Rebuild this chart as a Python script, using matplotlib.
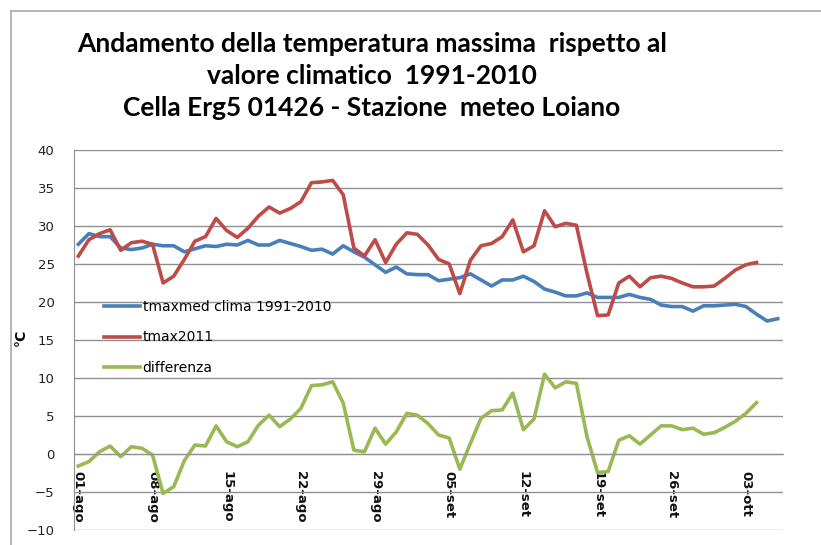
import matplotlib
matplotlib.use("Agg")
import matplotlib.pyplot as plt
import matplotlib.ticker as ticker
from matplotlib.lines import Line2D

# 数据：每天一个点，从 01-ago 开始
tmaxmed = [27.6, 29.0, 28.6, 28.6, 27.1, 26.9, 27.1, 27.6, 27.4, 27.4,
           26.6, 27.0, 27.4, 27.3, 27.6, 27.5, 28.1, 27.5, 27.5, 28.1,
           27.7, 27.3, 26.8, 26.95, 26.3, 27.4, 26.6, 25.9, 24.9, 23.9,
           24.6, 23.7, 23.6, 23.6, 22.8, 23.0, 23.2, 23.7, 22.9, 22.1,
           22.9, 22.9, 23.4, 22.7, 21.7, 21.3, 20.8, 20.8, 21.2, 20.6,
           20.6, 20.6, 21.0, 20.6, 20.35, 19.6, 19.4, 19.4, 18.8, 19.5,
           19.5, 19.6, 19.7, 19.4, 18.4, 17.5, 17.8]

tmax2011 = [26.05, 28.2, 29.0, 29.5, 26.8, 27.8, 28.0, 27.6, 22.5, 23.4,
            25.6, 28.0, 28.6, 31.0, 29.4, 28.5, 29.7, 31.3, 32.5, 31.7,
            32.3, 33.2, 35.7, 35.8, 36.0, 34.1, 27.1, 26.05, 28.2, 25.2,
            27.6, 29.1, 28.9, 27.5, 25.6, 25.0, 21.1, 25.5, 27.4, 27.7,
            28.6, 30.8, 26.6, 27.4, 32.0, 29.9, 30.35, 30.1, 23.8, 18.2,
            18.3, 22.5, 23.4, 22.0, 23.2, 23.4, 23.1, 22.5, 22.0, 22.0,
            22.1, 23.1, 24.2, 24.9, 25.2]

differenza = [-1.58, -1.0, 0.3, 1.05, -0.35, 0.96, 0.75, -0.13, -5.2, -4.3,
              -0.88, 1.18, 1.05, 3.7, 1.6, 0.96, 1.6, 3.8, 5.1, 3.6,
              4.6, 6.0, 9.0, 9.1, 9.5, 6.7, 0.5, 0.3, 3.4, 1.3,
              2.9, 5.35, 5.1, 4.0, 2.5, 2.1, -2.0, 1.4, 4.7, 5.7,
              5.8, 8.0, 3.2, 4.6, 10.5, 8.7, 9.5, 9.3, 2.3, -2.46,
              -2.3, 1.8, 2.4, 1.3, 2.5, 3.7, 3.7, 3.2, 3.4, 2.6,
              2.8, 3.5, 4.3, 5.35, 6.75]

tick_days = [0, 7, 14, 21, 28, 35, 42, 49, 56, 63]
tick_labels = ["01-ago", "08-ago", "15-ago", "22-ago", "29-ago",
               "05-set", "12-set", "19-set", "26-set", "03-ott"]

label_set = ["tmaxmed clima 1991-2010", "tmax2011", "differenza"]
color_select = ['#4a7ebb', '#be4b48', '#98b954']

fig = plt.figure(figsize=(8.21, 5.45), dpi=100)
ax = fig.add_axes([74 / 821, 1 - 530 / 545, 709 / 821, 380 / 545])

new_line_width = 2.6
ax.plot(range(len(tmaxmed)), tmaxmed, color=color_select[0], linewidth=new_line_width, label=label_set[0])
ax.plot(range(len(tmax2011)), tmax2011, color=color_select[1], linewidth=new_line_width, label=label_set[1])
ax.plot(range(len(differenza)), differenza, color=color_select[2], linewidth=new_line_width, label=label_set[2])

#  边框先设置（set_position 会重置刻度）
ax.spines['top'].set_visible(False)
ax.spines['right'].set_visible(False)
ax.spines['left'].set_color('#909090')
ax.spines['bottom'].set_position(('data', 0))
ax.spines['bottom'].set_color('#909090')

#  坐标轴设置
ax.tick_params(axis='x', length=0, pad=12)
ax.tick_params(axis='y', length=0, pad=14, labelsize=9.5, labelcolor='#222222')
ax.set_xlim(-0.41, 66.5)
ax.set_ylim(-10, 40)
ax.yaxis.set_major_locator(ticker.MultipleLocator(5))
ax.set_xticks(tick_days)
ax.set_xticklabels(tick_labels, rotation=-90, fontweight='bold', fontsize=9.5,
                   va='top', ha='center', color='#111111')

ax.grid(axis='y', color='#909090', linewidth=1)
ax.set_axisbelow(True)

fig.text(21 / 821, 1 - 337 / 545, "°C", rotation=90, ha='center', va='center',
         fontweight='bold', fontsize=10)

plt.legend(loc='upper left', bbox_to_anchor=(0.032, 0.624), frameon=False,
           prop={'size': 10}, handlelength=2.65, handletextpad=0.15,
           labelspacing=1.2, borderpad=0)

fig.text(372 / 821, 1 - 76 / 545,
         "Andamento della temperatura massima  rispetto al\n"
         "valore climatico  1991-2010\n"
         "Cella Erg5 01426 - Stazione  meteo Loiano",
         ha='center', va='center', fontsize=19, fontweight='bold',
         family='Lato', linespacing=1.39)

#  外边框
fig.add_artist(Line2D([11 / 821, 11 / 821], [0, 1 - 11 / 545], color='#b0b0b0', linewidth=1.3))
fig.add_artist(Line2D([11 / 821, 1], [1 - 11 / 545, 1 - 11 / 545], color='#b0b0b0', linewidth=1.3))

fig.savefig('out.png', dpi=100)
